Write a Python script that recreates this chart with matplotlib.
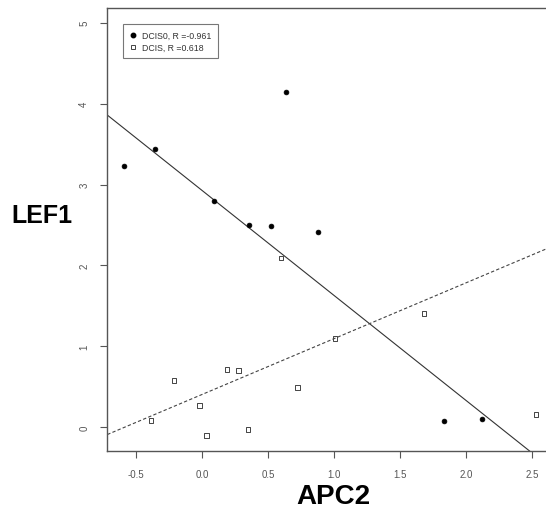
import matplotlib
matplotlib.use("Agg")
import matplotlib.pyplot as plt
import numpy as np
from matplotlib.lines import Line2D

# DCIS0 (filled circles)
dcis0_x = [-0.595, -0.356, 0.089, 0.352, 0.52, 0.877, 0.634, 1.829, 2.117]
dcis0_y = [3.226, 3.44, 2.797, 2.50, 2.49, 2.42, 4.145, 0.082, 0.106]
# DCIS (open squares)
dcis_x = [1.680, 1.005, 0.187, 0.273, -0.214, 0.720, -0.02, -0.389, 0.03, 0.346, 2.528, 0.596]
dcis_y = [1.409, 1.10, 0.717, 0.705, 0.581, 0.49, 0.272, 0.087, -0.099, -0.025, 0.156, 2.093]
# fitted lines (intercept, slope)
fit_dcis0 = (2.925, -1.298)
fit_dcis = (0.407, 0.690)
legend_labels = ["DCIS0, R =-0.961", "DCIS, R =0.618"]
xticks = [-0.5, 0.0, 0.5, 1.0, 1.5, 2.0, 2.5]
yticks = [0, 1, 2, 3, 4, 5]

plt.rcParams['font.family'] = ['Liberation Sans Narrow', 'Liberation Sans', 'DejaVu Sans']

fig = plt.figure(figsize=(5.46, 5.10), dpi=100)
ax = fig.add_axes([107.3/546, 1-452.3/510, (548-107.3)/546, (452.3-9)/510])
ax.set_xlim(-0.720, 2.619)
ax.set_ylim(-0.297, 5.183)

spine_col = '#555555'
for s in ax.spines.values():
    s.set_color(spine_col)
    s.set_linewidth(1.0)

ax.scatter(dcis0_x, dcis0_y, s=12, marker='o', facecolor='black', edgecolor='black', linewidths=0.5, zorder=3)
ax.scatter(dcis_x, dcis_y, s=11, marker='s', facecolor='none', edgecolor='#444444', linewidths=0.7, zorder=3)

ax.axline((0, fit_dcis0[0]), slope=fit_dcis0[1], color='#333333', lw=0.8, ls='-')
ax.axline((0, fit_dcis[0]), slope=fit_dcis[1], color='#444444', lw=0.8, ls=(0, (3, 2)))

ax.set_xticks(xticks)
ax.set_xticklabels([f"{v:.1f}" for v in xticks])
ax.set_yticks(yticks)
ax.set_yticklabels([str(v) for v in yticks], rotation=90, va='center')
ax.tick_params(axis='both', direction='out', length=5, width=0.8, color=spine_col,
               labelsize=7, labelcolor='#555555', pad=8)

fig.text(42/546, 1-216/510, 'LEF1', fontsize=18, fontweight='bold', family=['Liberation Sans', 'DejaVu Sans'],
         ha='center', va='center')
fig.text(333/546, 1-497/510, 'APC2', fontsize=20, fontweight='bold', family=['Liberation Sans', 'DejaVu Sans'],
         ha='center', va='center')

handles = [Line2D([], [], marker='o', ls='none', color='black', markersize=3.2),
           Line2D([], [], marker='s', ls='none', markerfacecolor='none', markeredgecolor='#444444',
                  markersize=3.2, markeredgewidth=0.7)]
leg = ax.legend(handles, legend_labels, loc='upper left', bbox_to_anchor=((122.7-107.3)/440.7, 1-16/443.3),
                fontsize=6.3, frameon=True, fancybox=False, borderpad=0.75, handlelength=0.8,
                handletextpad=0.7, labelspacing=0.35, borderaxespad=0)
leg.get_frame().set_edgecolor('#555555')
leg.get_frame().set_linewidth(0.8)
for t in leg.get_texts():
    t.set_color('#333333')

fig.savefig('out.png', dpi=100)
